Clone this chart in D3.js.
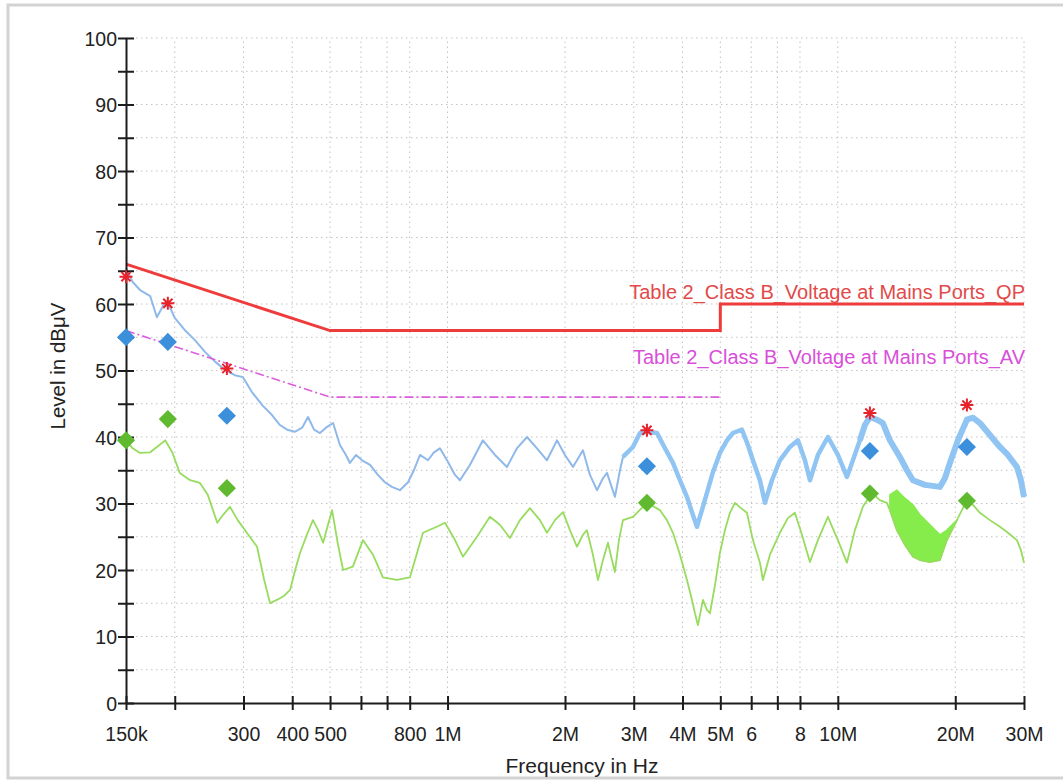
<!DOCTYPE html>
<html><head><meta charset="utf-8">
<script src="https://cdn.jsdelivr.net/npm/d3@7"></script>
<style>body{margin:0;background:#fff}svg{display:block}</style>
</head><body><svg id="c" width="1063" height="782"></svg>
<script>
// ---------- data ----------
const peakFreqKHz = [150,156,163,173,180,187,192,200,212,225,239,254,269,285,299,315,335,355,372,388,407,424,439,455,471,488,509,530,549,562,583,604,633,663,691,720,755,792,820,850,891,923,956,997,1045,1076,1141,1232,1323,1420,1506,1598,1695,1798,1907,1999,2096,2223,2317,2415,2502,2562,2685,2766,2815,2986,3112,3243,3441,3607,3781,3941,4107,4230,4356,4486,4621,4787,4989,5200,5387,5680,5884,6061,6316,6506,6780,7107,7538,7903,8237,8484,8894,9433,10006,10552,10932,11393,11734,12085,12594,13048,13598,14424,15035,15578,16719,18265,18813,19375,20313,21421,22191,23131,24531,26025,27285,28770,29454,30000];
const peakLevel = [65.4,63.3,62.1,61.2,58.0,59.8,60.2,57.9,56.1,54.6,52.8,51.3,50.1,49.3,49.0,46.8,44.8,43.3,41.8,41.1,40.8,41.4,43.0,41.1,40.6,41.4,42.1,38.8,37.3,36.1,37.3,36.5,35.8,34.3,33.2,32.5,32.0,33.2,35.0,37.3,36.5,37.7,38.3,36.5,34.3,33.5,35.8,39.5,37.3,35.5,38.3,40.0,38.3,36.5,39.5,37.3,35.5,38.0,34.3,32.0,33.8,34.6,31.0,35.0,37.0,38.5,40.6,40.8,40.6,38.3,36.1,33.5,31.0,28.7,26.5,29.0,31.6,34.7,37.6,39.5,40.6,41.1,38.8,36.5,33.5,30.1,33.5,36.5,38.5,39.5,36.5,33.5,37.3,40.0,37.3,34.0,36.5,39.5,41.8,43.0,42.6,42.1,39.5,37.0,35.0,33.5,32.8,32.5,33.8,36.1,39.5,42.6,42.9,42.1,40.3,38.5,37.3,35.5,33.5,31.0];

const avgFreqKHz = [150,156,163,173,181,189,197,206,219,232,243,257,266,277,290,306,325,339,351,365,381,395,407,419,436,452,466,480,494,506,524,540,572,607,644,683,742,801,865,939,985,1045,1095,1190,1284,1362,1445,1533,1626,1725,1798,1885,1976,2059,2146,2223,2276,2358,2429,2502,2577,2638,2685,2749,2815,2986,3168,3243,3502,3650,3781,3941,4107,4230,4305,4382,4513,4621,4703,4844,4989,5139,5292,5451,5647,5850,6061,6316,6429,6701,7107,7450,7764,8093,8484,8894,9433,10006,10552,11062,11596,12228,12819,13359,13598,14171,14856,15578,16235,17218,18265,19035,20193,21421,22191,23131,24531,26025,27285,28770,29454,30000];
const avgLevel = [39.5,38.3,37.6,37.7,38.6,39.5,37.7,34.6,33.5,33.1,31.3,27.1,28.3,29.5,27.5,25.6,23.5,18.5,15.0,15.5,16.1,17.0,20.0,22.6,25.3,27.5,26.0,24.1,26.8,29.0,23.8,20.0,20.5,24.5,22.3,18.9,18.5,18.9,25.6,26.5,27.1,24.5,22.0,25.0,28.0,26.8,24.8,27.5,29.3,27.5,25.6,27.5,28.7,26.0,23.5,25.3,26.0,22.3,18.5,21.5,24.1,21.5,19.7,24.5,27.5,28.0,29.5,30.1,29.0,27.5,25.6,22.3,18.5,15.5,13.5,11.7,15.5,14.0,13.5,17.7,22.6,26.0,28.6,30.1,29.3,28.6,24.5,21.1,18.5,22.3,25.6,27.8,28.6,25.3,21.2,24.5,28.0,24.5,21.1,26.0,29.5,31.6,30.5,30.1,29.0,26.0,23.8,22.0,21.5,21.2,21.5,24.5,27.5,30.5,29.8,28.6,27.5,26.5,25.6,24.5,23.0,21.1];

const avgBandFreqKHz = [13598,14171,14856,15578,16235,17218,18265,19035,20193];
const avgBandUpper = [31.3,32.0,30.8,29.8,28.3,26.8,25.3,26.0,27.5];
const avgBandLower = [29.0,26.0,23.8,22.0,21.5,21.2,21.5,24.5,27.5];

const qpLimitFreqKHz = [150,500,5000,5000,30000];
const qpLimitLevel = [66,56,56,60,60];
const avLimitFreqKHz = [150,500,5000];
const avLimitLevel = [56,46,46];
const qpLimitName = "Table 2_Class B_Voltage at Mains Ports_QP";
const avLimitName = "Table 2_Class B_Voltage at Mains Ports_AV";

const markerFreqKHz = [150,192,272,3243,12085,21421];
const starLevel = [64.1,60.1,50.3,41.0,43.6,44.8];
const peakDiamondLevel = [55.0,54.3,43.2,35.6,37.9,38.5];
const avgDiamondLevel = [39.5,42.7,32.3,30.1,31.5,30.4];

const xTickKHz = [150,200,300,400,500,600,700,800,1000,2000,3000,4000,5000,6000,7000,8000,10000,20000,30000];
const xTickLabels = ["150k","","300","400","500","","","800","1M","2M","3M","4M","5M","6","","8","10M","20M","30M"];
const yTicks = d3.range(0,101,5);
const xTitle = "Frequency in Hz";
const yTitle = "Level in dBμV";

// ---------- drawing ----------
const FONT = "'Liberation Sans', Arial, sans-serif";
const svg = d3.select("#c");
svg.append("rect").attr("x",8).attr("y",5).attr("width",1080).attr("height",773)
  .attr("fill","#fff").attr("stroke","#d3d3d3").attr("stroke-width",3);

const x = d3.scaleLog().domain([150,30000]).range([126,1024]);
const y = d3.scaleLinear().domain([0,100]).range([703,38]);

// grid
const grid = svg.append("g").attr("stroke","#c2c2c2").attr("stroke-width",1).attr("stroke-dasharray","1.5,3.5");
grid.selectAll("line.v").data(xTickKHz.slice(1)).join("line").attr("class","v")
  .attr("x1",d=>x(d)).attr("x2",d=>x(d)).attr("y1",y(0)).attr("y2",y(100));
grid.selectAll("line.h").data(yTicks.slice(1)).join("line").attr("class","h")
  .attr("x1",x(150)).attr("x2",x(30000)).attr("y1",d=>y(d)).attr("y2",d=>y(d));

const line = d3.line().x(d=>x(d[0])).y(d=>y(d[1]));
const peak = d3.zip(peakFreqKHz, peakLevel);
const avg = d3.zip(avgFreqKHz, avgLevel);

// traces
svg.append("path").attr("d",line(peak)).attr("fill","none").attr("stroke","#8fb9ea")
  .attr("stroke-width",2).attr("stroke-linejoin","round");
svg.append("path").attr("d",line(peak.filter(d=>d[0]>=2800))).attr("fill","none").attr("stroke","#8fc4f3")
  .attr("stroke-width",4.5).attr("stroke-linejoin","round");
svg.append("path").attr("d",line(peak.filter(d=>d[0]>=11000))).attr("fill","none").attr("stroke","#8fc4f3")
  .attr("stroke-width",6).attr("stroke-linejoin","round");

const band = d3.area().x(d=>x(d[0])).y0(d=>y(d[2])).y1(d=>y(d[1]));
svg.append("path").attr("d",band(d3.zip(avgBandFreqKHz,avgBandUpper,avgBandLower)))
  .attr("fill","#86ec4c").attr("stroke","#86ec4c").attr("stroke-width",1.5);
svg.append("path").attr("d",line(avg)).attr("fill","none").attr("stroke","#97dc5e")
  .attr("stroke-width",1.8).attr("stroke-linejoin","round");

// limit lines
svg.append("path").attr("d",line(d3.zip(avLimitFreqKHz,avLimitLevel))).attr("fill","none")
  .attr("stroke","#dc5edc").attr("stroke-width",1.6).attr("stroke-dasharray","9,3,2,3");
svg.append("path").attr("d",line(d3.zip(qpLimitFreqKHz,qpLimitLevel))).attr("fill","none")
  .attr("stroke","#ee3b3b").attr("stroke-width",3);

svg.append("text").text(qpLimitName).attr("x",1025).attr("y",299).attr("text-anchor","end")
  .attr("font-family",FONT).attr("font-size",20).attr("fill","#e24a4a");
svg.append("text").text(avLimitName).attr("x",1025).attr("y",364).attr("text-anchor","end")
  .attr("font-family",FONT).attr("font-size",20).attr("fill","#d94fd9");

// axes
const xAxis = d3.axisBottom(x).tickValues(xTickKHz).tickFormat((d,i)=>xTickLabels[i]).tickSizeInner(7).tickSizeOuter(0);
const gx = svg.append("g").attr("transform",`translate(0,${y(0)})`).call(xAxis);
gx.select(".domain").attr("stroke","#1c1c1c").attr("stroke-width",2);
gx.selectAll(".tick line").attr("y1",-7).attr("stroke","#1c1c1c").attr("stroke-width",2);
gx.selectAll(".tick text").attr("y",38).attr("dy",0).attr("font-size",19.5).attr("font-family",FONT).attr("fill","#222");

const yAxis = d3.axisLeft(y).tickValues(yTicks).tickFormat(d=>d%10===0?d:"").tickSizeInner(8).tickSizeOuter(0);
const gy = svg.append("g").attr("transform",`translate(${x(150)},0)`).call(yAxis);
gy.select(".domain").attr("stroke","#1c1c1c").attr("stroke-width",2);
gy.selectAll(".tick line").attr("x1",8).attr("stroke","#1c1c1c").attr("stroke-width",2);
gy.selectAll(".tick text").attr("x",-9).attr("dy","0.36em").attr("font-size",19.5).attr("font-family",FONT).attr("fill","#222");

svg.append("text").text(xTitle).attr("x",582).attr("y",773).attr("text-anchor","middle")
  .attr("font-family",FONT).attr("font-size",21).attr("fill","#222");
svg.append("text").text(yTitle).attr("transform","translate(65,366) rotate(-90)").attr("text-anchor","middle")
  .attr("font-family",FONT).attr("font-size",20.5).attr("fill","#222");

// markers
const diamond = d3.symbol(d3.symbolSquare,165);
svg.selectAll("path.pd").data(d3.zip(markerFreqKHz,peakDiamondLevel)).join("path").attr("class","pd")
  .attr("d",diamond).attr("fill","#3b8fdb")
  .attr("transform",d=>`translate(${x(d[0])},${y(d[1])}) rotate(45)`);
svg.selectAll("path.ad").data(d3.zip(markerFreqKHz,avgDiamondLevel)).join("path").attr("class","ad")
  .attr("d",diamond).attr("fill","#5fba2f")
  .attr("transform",d=>`translate(${x(d[0])},${y(d[1])}) rotate(45)`);
function starPath(r){const a=r*0.707;return `M${-r},0L${r},0M0,${-r}L0,${r}M${-a},${-a}L${a},${a}M${-a},${a}L${a},${-a}`;}
svg.selectAll("path.st").data(d3.zip(markerFreqKHz,starLevel)).join("path").attr("class","st")
  .attr("d",starPath(6.5)).attr("fill","none").attr("stroke","#e8222a").attr("stroke-width",2)
  .attr("transform",d=>`translate(${x(d[0])},${y(d[1])})`);
</script></body></html>
